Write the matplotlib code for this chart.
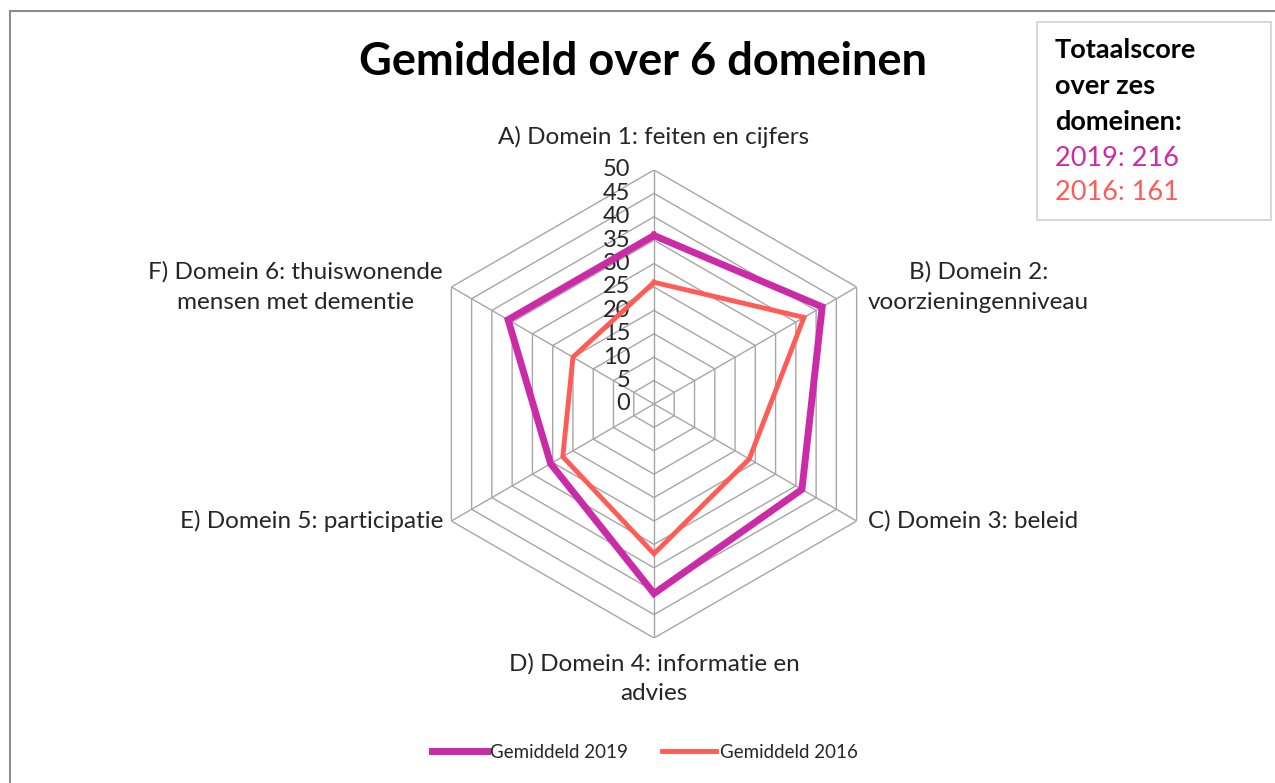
import numpy as np
import matplotlib
matplotlib.use("Agg")
import matplotlib.pyplot as plt
from matplotlib.patches import Rectangle
from matplotlib.lines import Line2D

plt.rcParams['font.family'] = ['Lato', 'DejaVu Sans']

categories = ["A) Domein 1: feiten en cijfers",
              "B) Domein 2:\nvoorzieningenniveau",
              "C) Domein 3: beleid",
              "D) Domein 4: informatie en\nadvies",
              "E) Domein 5: participatie",
              "F) Domein 6: thuiswonende\nmensen met dementie"]
scores_2019 = [36, 41.5, 36.5, 40.5, 25.5, 36]
scores_2016 = [26, 37, 23.5, 32, 22.5, 20]
r_ticks = [0, 5, 10, 15, 20, 25, 30, 35, 40, 45, 50]
totals = {"2019": 216, "2016": 161}

c2019 = '#cc2ba8'
c2016 = '#ff5b57'

W, H = 1275, 783
fig = plt.figure(figsize=(W / 100, H / 100), dpi=100)

# chart frame
fig.patches.append(Rectangle((10 / W, -0.1), 1.2, 1 - 11 / H + 0.1, transform=fig.transFigure,
                             fill=False, edgecolor='#8c8c8c', linewidth=1.5))

cx, cy, R = 654, H - 404, 234
ax = fig.add_axes([(cx - R) / W, (cy - R) / H, 2 * R / W, 2 * R / H], projection='polar')
ax.set_theta_offset(np.pi / 2)
ax.set_theta_direction(-1)
ax.set_ylim(0, 50)
ax.grid(False)
ax.spines['polar'].set_visible(False)
ax.set_xticks([])
ax.set_yticks([])
ax.patch.set_alpha(0)

n = len(categories)
theta = np.arange(n) * 2 * np.pi / n
theta_c = np.append(theta, theta[0])

for r in r_ticks[1:]:
    ax.plot(theta_c, [r] * (n + 1), color='#a6a6a6', lw=1, zorder=1)
for t in theta:
    ax.plot([t, t], [0, 50], color='#a6a6a6', lw=1, zorder=1)

ax.plot(theta_c, scores_2019 + scores_2019[:1], color=c2019, lw=5, zorder=3,
        solid_joinstyle='miter')
ax.plot(theta_c, scores_2016 + scores_2016[:1], color=c2016, lw=3.5, zorder=3,
        solid_joinstyle='miter')

for r in r_ticks:
    ax.annotate(str(r), (0, r), xytext=(-17, 0), textcoords='offset points',
                ha='right', va='center', fontsize=17, color='#262626', zorder=2)

offsets = [(0, 16, 'center', 'bottom'), (8, 0, 'left', 'center'), (8, 0, 'left', 'center'),
           (0, -11, 'center', 'top'), (-6, 0, 'right', 'center'), (-6, 0, 'right', 'center')]
for t, lab, (dx, dy, ha, va) in zip(theta, categories, offsets):
    ax.annotate(lab, (t, 50), xytext=(dx, dy), textcoords='offset points',
                ha=ha, va=va, fontsize=17.5, color='#262626', multialignment='center',
                linespacing=1.5, annotation_clip=False)

fig.text(643 / W, 1 - 62 / H, "Gemiddeld over 6 domeinen", ha='center', va='center',
         fontsize=32.5, fontweight='bold', color='black')

# totals box
fig.patches.append(Rectangle((1037 / W, 1 - 220 / H), 234 / W, 198 / H, transform=fig.transFigure,
                             fill=True, facecolor='white', edgecolor='#d9d9d9', linewidth=1.5))
ys = [50, 86, 122, 158, 193]
lines = ["Totaalscore", "over zes", "domeinen:"]
for y, s in zip(ys[:3], lines):
    fig.text(1055 / W, 1 - y / H, s, ha='left', va='center', fontsize=19.5, fontweight='bold')
fig.text(1055 / W, 1 - ys[3] / H, f"2019: {totals['2019']}", ha='left', va='center',
         fontsize=19.5, color=c2019)
fig.text(1055 / W, 1 - ys[4] / H, f"2016: {totals['2016']}", ha='left', va='center',
         fontsize=19.5, color=c2016)

handles = [Line2D([], [], color=c2019, lw=5), Line2D([], [], color=c2016, lw=3.5)]
fig.legend(handles, ["Gemiddeld 2019", "Gemiddeld 2016"], loc='center',
           bbox_to_anchor=(645 / W, 1 - 752 / H), ncol=2, frameon=False, fontsize=13.5,
           handlelength=2.9, handletextpad=0.2, columnspacing=1.8, labelcolor='#262626')

fig.savefig("out.png", dpi=100)
